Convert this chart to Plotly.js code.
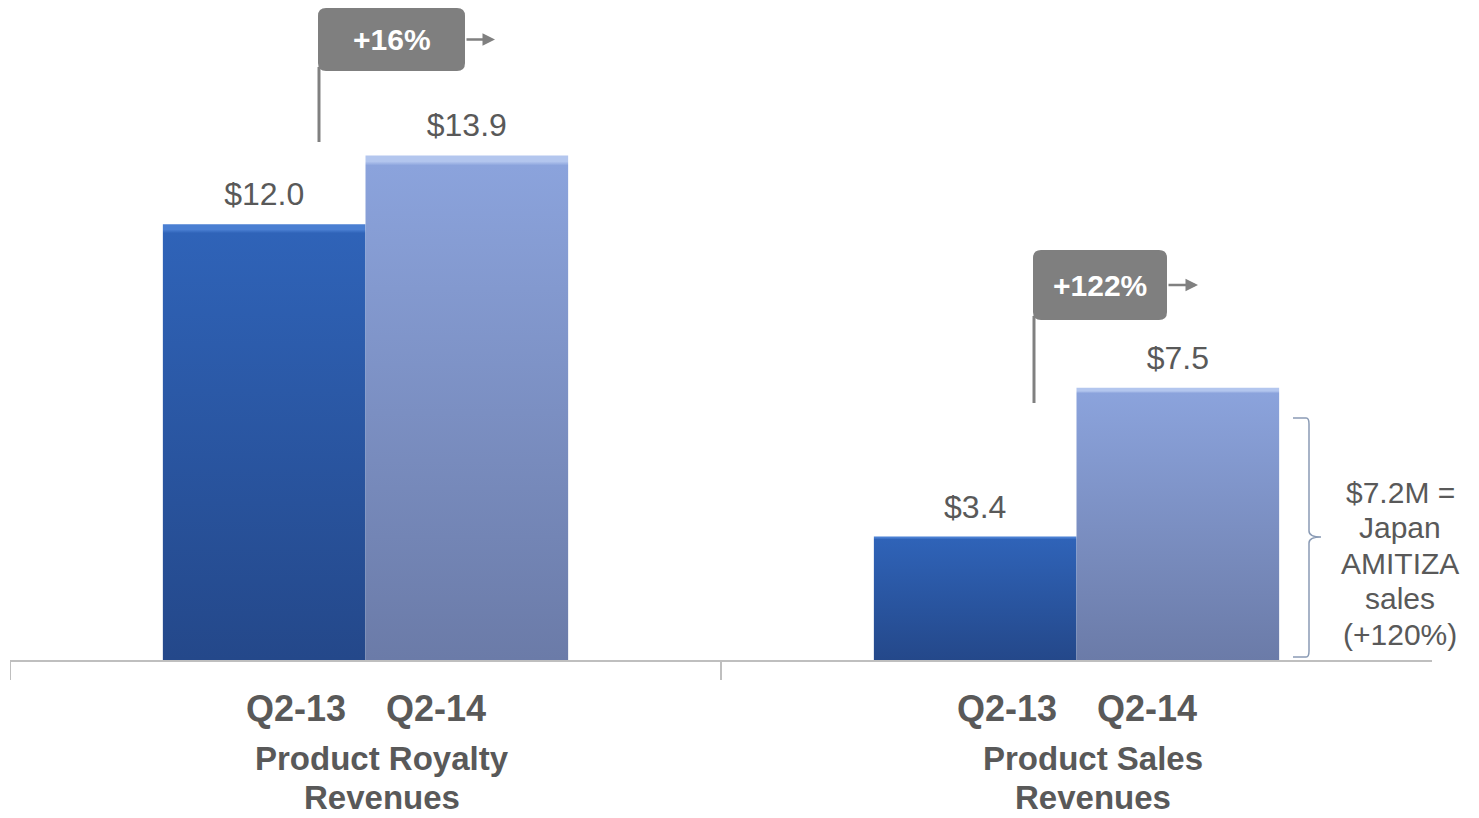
<!DOCTYPE html>
<html>
<head>
<meta charset="utf-8">
<script src="https://cdn.plot.ly/plotly-3.0.1.min.js"></script>
<style>
  html, body { margin: 0; padding: 0; background: #ffffff; }
  #chart { width: 1479px; height: 818px; }
</style>
</head>
<body>
<div id="chart"></div>
<script>
// ---- data ----
const groupKeys = ['Product Royalty Revenues', 'Product Sales Revenues'];
const groupLabels = ['Product Royalty<br>Revenues', 'Product Sales<br>Revenues'];
const periods = ['Q2-13', 'Q2-14'];
const valuesQ213 = [12.0, 3.4];
const valuesQ214 = [13.9, 7.5];
const growthLabels = ['+16%', '+122%'];
const noteLines = ['$7.2M =', 'Japan', 'AMITIZA', 'sales', '(+120%)'];

// ---- styling ----
const FONT = 'Liberation Sans, Arial, Helvetica, sans-serif';
const GREY_TEXT = '#595959';
const BOX_GREY = '#7f7f7f';
const AXIS_GREY = '#bfbfbf';
const YMAX = 18.18;
const ML = 10;

// helpers mapping decoration positions into axis units
const W = 1479 - ML - 47, H = 660;
const cx = px => (px - ML) / (W / 2) - 0.5;    // category axis units
const cy = py => (H - py) / (H / YMAX);        // value axis units

const fmt = v => '$' + v.toFixed(1);
const series = [valuesQ213, valuesQ214];
const barColors = ['#2a58a6', '#7d92c8'];

const traces = [];
series.forEach((vals, i) => {
  traces.push({
    type: 'bar', name: periods[i], x: groupKeys, y: vals,
    marker: { color: barColors[i], line: { width: 0 } },
    hoverinfo: 'skip', showlegend: false
  });
});
series.forEach((vals, i) => {
  traces.push({
    type: 'scatter', mode: 'markers+text', name: periods[i] + ' label',
    x: groupKeys, y: vals, text: vals.map(fmt),
    textposition: 'top center',
    textfont: { family: FONT, size: 32, color: GREY_TEXT },
    marker: { size: 16, opacity: 0 },
    hoverinfo: 'skip', showlegend: false, cliponaxis: false
  });
});

// decoration geometry (pixel estimates)
const boxes = [
  { l: 318, r: 465, t: 8, b: 71, lineBottom: 142, arrowTip: 495 },
  { l: 1033, r: 1167, t: 250, b: 320, lineBottom: 403, arrowTip: 1198 }
];
function roundRect(b, rad) {
  const x0 = cx(b.l), x1 = cx(b.r), y0 = cy(b.b), y1 = cy(b.t);
  const rx = rad / (W / 2), ry = rad / (H / YMAX);
  return `M${x0 + rx},${y1} L${x1 - rx},${y1} Q${x1},${y1} ${x1},${y1 - ry} ` +
         `L${x1},${y0 + ry} Q${x1},${y0} ${x1 - rx},${y0} L${x0 + rx},${y0} ` +
         `Q${x0},${y0} ${x0},${y0 + ry} L${x0},${y1 - ry} Q${x0},${y1} ${x0 + rx},${y1} Z`;
}

const shapes = [];
const annotations = [];
boxes.forEach((b, i) => {
  shapes.push({ type: 'line', xref: 'x', yref: 'y', x0: cx(b.l + 1), x1: cx(b.l + 1),
    y0: cy(b.b - 4), y1: cy(b.lineBottom), line: { color: '#808080', width: 3 } });
  shapes.push({ type: 'path', xref: 'x', yref: 'y', path: roundRect(b, 8),
    fillcolor: BOX_GREY, line: { width: 0 } });
  annotations.push({ xref: 'x', yref: 'y', x: cx((b.l + b.r) / 2), y: cy((b.t + b.b) / 2),
    text: '<b>' + growthLabels[i] + '</b>', showarrow: false,
    font: { family: FONT, size: 30, color: '#ffffff' } });
  const ay = cy((b.t + b.b) / 2);
  annotations.push({ xref: 'x', yref: 'y', axref: 'x', ayref: 'y',
    x: cx(b.arrowTip), y: ay, ax: cx(b.r), ay: ay, text: '',
    showarrow: true, arrowhead: 2, arrowsize: 1, arrowwidth: 2.5, arrowcolor: '#808080' });
});

// bracket
const bx0 = cx(1293), bx1 = cx(1309), bx2 = cx(1321);
const byT = cy(418), byM = cy(537), byB = cy(657);
const dy = 6 / (H / YMAX);
shapes.push({ type: 'path', xref: 'x', yref: 'y',
  path: `M${bx0},${byT} L${bx1 - 0.004},${byT} Q${bx1},${byT} ${bx1},${byT - dy} ` +
        `L${bx1},${byM + dy} Q${bx1},${byM} ${bx2},${byM} Q${bx1},${byM} ${bx1},${byM - dy} ` +
        `L${bx1},${byB + dy} Q${bx1},${byB} ${bx1 - 0.004},${byB} L${bx0},${byB}`,
  line: { color: '#8a9bb5', width: 1.5 } });

// group divider ticks
[-0.5, 0.5].forEach(x => {
  shapes.push({ type: 'line', xref: 'x', yref: 'paper', x0: x, x1: x, y0: 0, y1: -20 / H,
    line: { color: AXIS_GREY, width: 2 } });
});

// period labels and group names under each group
const lineYs = [708, 758, 798];
groupKeys.forEach((k, gi) => {
  annotations.push({ xref: 'x', yref: 'paper', x: k, y: (H - lineYs[0]) / H, yanchor: 'middle',
    text: '<b>' + periods.join('\u00a0\u00a0\u00a0\u00a0') + '</b>', showarrow: false,
    font: { family: FONT, size: 36, color: GREY_TEXT } });
  groupLabels[gi].split('<br>').forEach((line, li) => {
    annotations.push({ xref: 'x', yref: 'paper', x: k, xshift: 16,
      y: (H - lineYs[li + 1]) / H, yanchor: 'middle',
      text: '<b>' + line + '</b>', showarrow: false,
      font: { family: FONT, size: 33, color: GREY_TEXT } });
  });
});

// side note
noteLines.forEach((t, i) => {
  annotations.push({ xref: 'x', yref: 'y', x: cx(1400), y: cy(492 + i * 35.5),
    yanchor: 'middle', text: t, showarrow: false,
    font: { family: FONT, size: 30, color: GREY_TEXT } });
});

const layout = {
  width: 1479, height: 818,
  margin: { l: ML, r: 47, t: 0, b: 158 },
  paper_bgcolor: '#ffffff', plot_bgcolor: '#ffffff',
  barmode: 'group', bargap: 0.43, bargroupgap: 0,
  scattermode: 'group',
  showlegend: false,
  xaxis: {
    type: 'category', range: [-0.5, 1.5], fixedrange: true,
    showline: true, linecolor: AXIS_GREY, linewidth: 2,
    ticks: '', showgrid: false, zeroline: false, showticklabels: false
  },
  yaxis: { range: [0, YMAX], visible: false, fixedrange: true, showgrid: false, zeroline: false },
  shapes: shapes,
  annotations: annotations
};

const gradients = [
  ['#4a7fd2', '#2f63b8', '#24488a'],
  ['#b3c6ee', '#8ba3dc', '#6b7ba8']
];

Plotly.newPlot('chart', traces, layout, { staticPlot: true, displayModeBar: false }).then(gd => {
  const svgNS = 'http://www.w3.org/2000/svg';
  const defs = gd.querySelector('.main-svg defs');
  gradients.forEach((g, i) => {
    const lg = document.createElementNS(svgNS, 'linearGradient');
    lg.setAttribute('id', 'barGrad' + i);
    lg.setAttribute('x1', '0'); lg.setAttribute('y1', '0');
    lg.setAttribute('x2', '0'); lg.setAttribute('y2', '1');
    [[0, g[0]], [0.012, g[0]], [0.02, g[1]], [1, g[2]]].forEach(([o, c]) => {
      const st = document.createElementNS(svgNS, 'stop');
      st.setAttribute('offset', o); st.setAttribute('stop-color', c);
      lg.appendChild(st);
    });
    defs.appendChild(lg);
  });
  const barTraces = gd.querySelectorAll('.barlayer .trace');
  barTraces.forEach((tr, i) => {
    tr.querySelectorAll('path').forEach(p => { p.style.fill = 'url(#barGrad' + i + ')'; });
  });
});
</script>
</body>
</html>
